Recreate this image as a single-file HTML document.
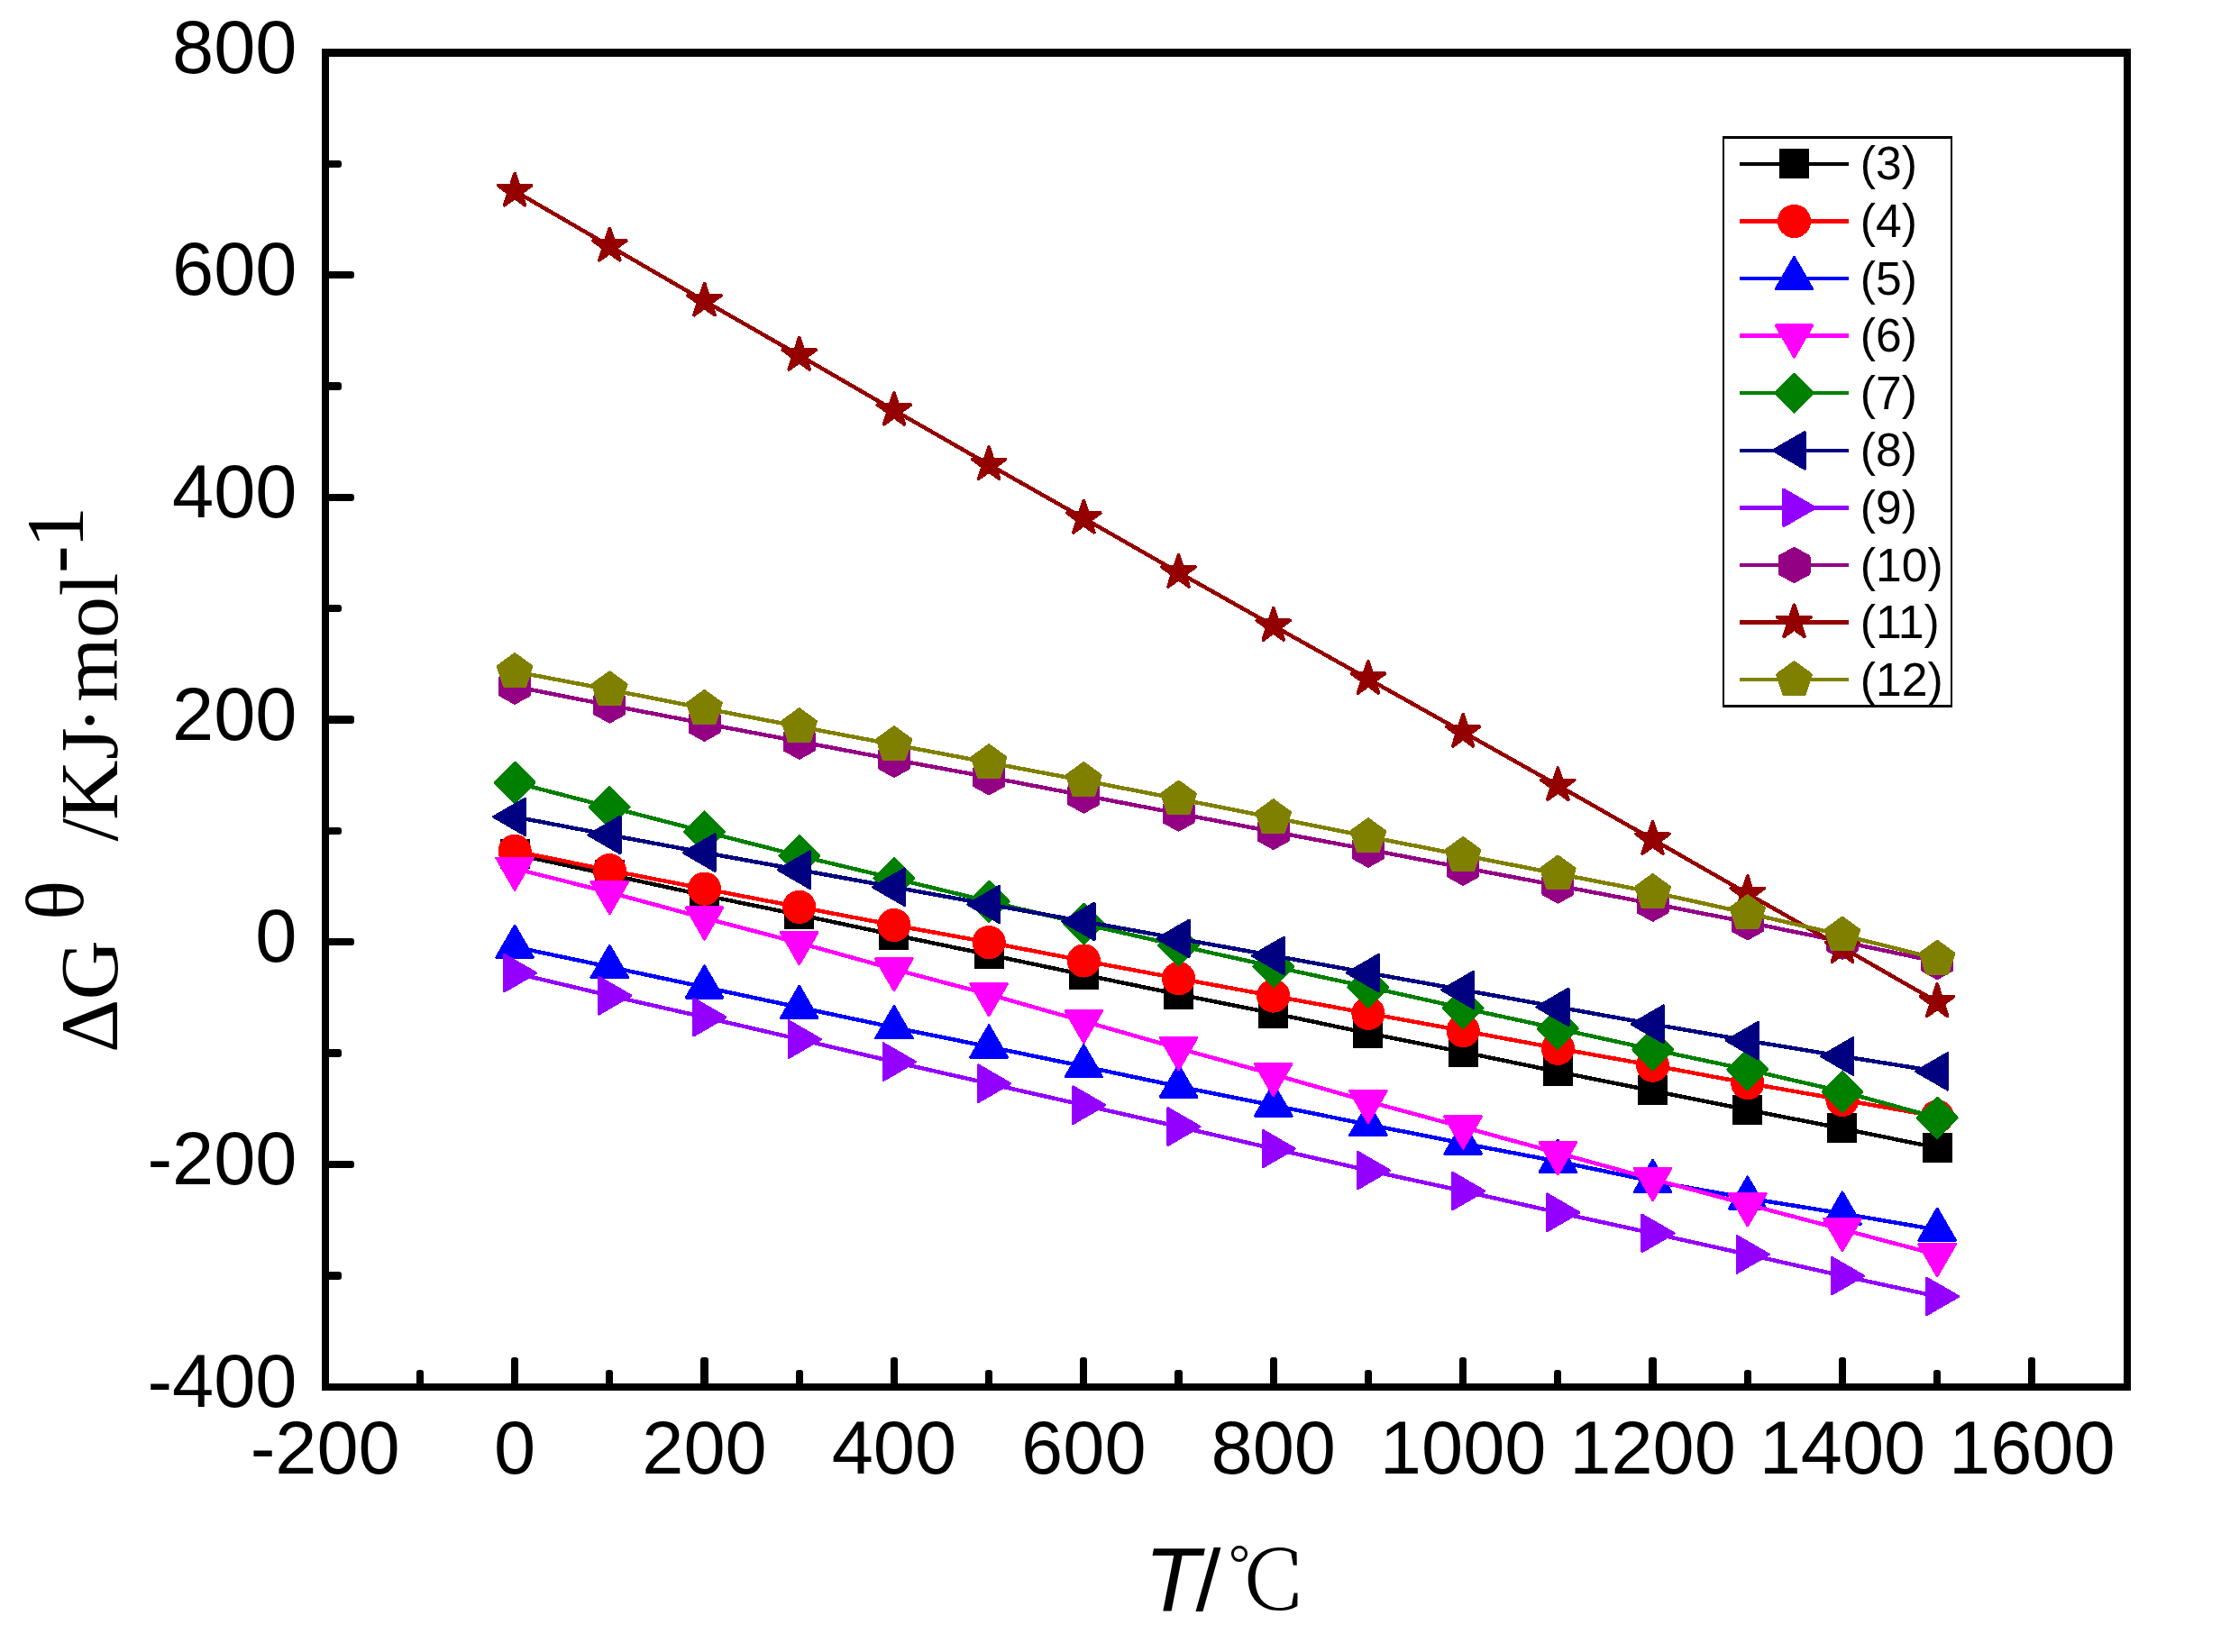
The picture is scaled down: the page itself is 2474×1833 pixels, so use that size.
<!DOCTYPE html>
<html lang="zh"><head><meta charset="utf-8"><title>ΔG θ /KJ·mol-1 — T/℃</title>
<style>
html,body{margin:0;padding:0;background:#fff;}
body{width:2474px;height:1833px;overflow:hidden;}
svg{display:block;}
.tk{font-family:"Liberation Sans",sans-serif;font-size:83px;fill:#000;}
.lg{font-family:"Liberation Sans",sans-serif;font-size:51.7px;fill:#000;}
.yt{font-family:"Liberation Serif",serif;font-size:92px;fill:#000;}
.xt{font-family:"Liberation Sans",sans-serif;font-size:100.5px;fill:#000;}
.xc{font-family:"Noto Serif CJK SC","Liberation Serif",serif;font-weight:300;font-size:93px;fill:#000;}
.xd{font-family:"Liberation Serif",serif;font-size:60px;fill:#000;}
</style></head><body>
<svg width="2474" height="1833" viewBox="0 0 2474 1833">
<rect x="0" y="0" width="2474" height="1833" fill="#fff"/>
<g id="data" shape-rendering="crispEdges">
<g><polyline points="571.1,947.79 676.31,970.49 781.51,993.43 886.71,1015.01 991.92,1037.34 1097.12,1059.29 1202.33,1081.5 1307.53,1103.33 1412.74,1124.3 1517.94,1146.5 1623.15,1167.34 1728.36,1189.17 1833.56,1210.26 1938.76,1231.36 2043.97,1252.2 2149.17,1273.42" fill="none" stroke="#000000" stroke-width="4.5" stroke-linejoin="round"/>
<rect x="554.6" y="930.99" width="33" height="33" fill="#000000"/>
<rect x="659.81" y="953.69" width="33" height="33" fill="#000000"/>
<rect x="765.01" y="976.63" width="33" height="33" fill="#000000"/>
<rect x="870.21" y="998.21" width="33" height="33" fill="#000000"/>
<rect x="975.42" y="1020.54" width="33" height="33" fill="#000000"/>
<rect x="1080.62" y="1042.49" width="33" height="33" fill="#000000"/>
<rect x="1185.83" y="1064.7" width="33" height="33" fill="#000000"/>
<rect x="1291.03" y="1086.53" width="33" height="33" fill="#000000"/>
<rect x="1396.24" y="1107.5" width="33" height="33" fill="#000000"/>
<rect x="1501.44" y="1129.7" width="33" height="33" fill="#000000"/>
<rect x="1606.65" y="1150.54" width="33" height="33" fill="#000000"/>
<rect x="1711.86" y="1172.37" width="33" height="33" fill="#000000"/>
<rect x="1817.06" y="1193.46" width="33" height="33" fill="#000000"/>
<rect x="1922.26" y="1214.56" width="33" height="33" fill="#000000"/>
<rect x="2027.47" y="1235.4" width="33" height="33" fill="#000000"/>
<rect x="2132.67" y="1256.62" width="33" height="33" fill="#000000"/>
</g>
<g><polyline points="571.1,944.34 676.31,965.68 781.51,986.15 886.71,1006.38 991.92,1026.49 1097.12,1045.6 1202.33,1065.95 1307.53,1085.69 1412.74,1105.05 1517.94,1124.42 1623.15,1143.66 1728.36,1163.27 1833.56,1182.14 1938.76,1201.75 2043.97,1220.26 2149.17,1238.88" fill="none" stroke="#ff0000" stroke-width="4.5" stroke-linejoin="round"/>
<circle cx="571.1" cy="944.34" r="18.6" fill="#ff0000"/>
<circle cx="676.31" cy="965.68" r="18.6" fill="#ff0000"/>
<circle cx="781.51" cy="986.15" r="18.6" fill="#ff0000"/>
<circle cx="886.71" cy="1006.38" r="18.6" fill="#ff0000"/>
<circle cx="991.92" cy="1026.49" r="18.6" fill="#ff0000"/>
<circle cx="1097.12" cy="1045.6" r="18.6" fill="#ff0000"/>
<circle cx="1202.33" cy="1065.95" r="18.6" fill="#ff0000"/>
<circle cx="1307.53" cy="1085.69" r="18.6" fill="#ff0000"/>
<circle cx="1412.74" cy="1105.05" r="18.6" fill="#ff0000"/>
<circle cx="1517.94" cy="1124.42" r="18.6" fill="#ff0000"/>
<circle cx="1623.15" cy="1143.66" r="18.6" fill="#ff0000"/>
<circle cx="1728.36" cy="1163.27" r="18.6" fill="#ff0000"/>
<circle cx="1833.56" cy="1182.14" r="18.6" fill="#ff0000"/>
<circle cx="1938.76" cy="1201.75" r="18.6" fill="#ff0000"/>
<circle cx="2043.97" cy="1220.26" r="18.6" fill="#ff0000"/>
<circle cx="2149.17" cy="1238.88" r="18.6" fill="#ff0000"/>
</g>
<g><polyline points="571.1,1050.66 676.31,1072.86 781.51,1095.31 886.71,1117.76 991.92,1140.08 1097.12,1161.42 1202.33,1183.25 1307.53,1205.45 1412.74,1226.55 1517.94,1247.76 1623.15,1268.61 1728.36,1288.71 1833.56,1310.66 1938.76,1329.41 2043.97,1346.43 2149.17,1364.56" fill="none" stroke="#0000ff" stroke-width="4.5" stroke-linejoin="round"/>
<polygon points="571.1,1027.06 591.54,1062.46 550.66,1062.46" fill="#0000ff" stroke="#0000ff" stroke-width="2.8" stroke-linejoin="round"/>
<polygon points="676.31,1049.26 696.75,1084.66 655.87,1084.66" fill="#0000ff" stroke="#0000ff" stroke-width="2.8" stroke-linejoin="round"/>
<polygon points="781.51,1071.71 801.95,1107.11 761.07,1107.11" fill="#0000ff" stroke="#0000ff" stroke-width="2.8" stroke-linejoin="round"/>
<polygon points="886.71,1094.16 907.15,1129.56 866.27,1129.56" fill="#0000ff" stroke="#0000ff" stroke-width="2.8" stroke-linejoin="round"/>
<polygon points="991.92,1116.48 1012.36,1151.88 971.48,1151.88" fill="#0000ff" stroke="#0000ff" stroke-width="2.8" stroke-linejoin="round"/>
<polygon points="1097.12,1137.82 1117.57,1173.22 1076.68,1173.22" fill="#0000ff" stroke="#0000ff" stroke-width="2.8" stroke-linejoin="round"/>
<polygon points="1202.33,1159.65 1222.77,1195.05 1181.89,1195.05" fill="#0000ff" stroke="#0000ff" stroke-width="2.8" stroke-linejoin="round"/>
<polygon points="1307.53,1181.85 1327.97,1217.25 1287.09,1217.25" fill="#0000ff" stroke="#0000ff" stroke-width="2.8" stroke-linejoin="round"/>
<polygon points="1412.74,1202.95 1433.18,1238.35 1392.3,1238.35" fill="#0000ff" stroke="#0000ff" stroke-width="2.8" stroke-linejoin="round"/>
<polygon points="1517.94,1224.16 1538.38,1259.56 1497.5,1259.56" fill="#0000ff" stroke="#0000ff" stroke-width="2.8" stroke-linejoin="round"/>
<polygon points="1623.15,1245.01 1643.59,1280.41 1602.71,1280.41" fill="#0000ff" stroke="#0000ff" stroke-width="2.8" stroke-linejoin="round"/>
<polygon points="1728.36,1265.11 1748.8,1300.51 1707.91,1300.51" fill="#0000ff" stroke="#0000ff" stroke-width="2.8" stroke-linejoin="round"/>
<polygon points="1833.56,1287.06 1854,1322.46 1813.12,1322.46" fill="#0000ff" stroke="#0000ff" stroke-width="2.8" stroke-linejoin="round"/>
<polygon points="1938.76,1305.81 1959.2,1341.21 1918.32,1341.21" fill="#0000ff" stroke="#0000ff" stroke-width="2.8" stroke-linejoin="round"/>
<polygon points="2043.97,1322.83 2064.41,1358.23 2023.53,1358.23" fill="#0000ff" stroke="#0000ff" stroke-width="2.8" stroke-linejoin="round"/>
<polygon points="2149.17,1340.96 2169.61,1376.36 2128.73,1376.36" fill="#0000ff" stroke="#0000ff" stroke-width="2.8" stroke-linejoin="round"/>
</g>
<g><polyline points="571.1,963.7 676.31,990.22 781.51,1018.59 886.71,1046.22 991.92,1075.45 1097.12,1103.33 1202.33,1133.18 1307.53,1163.27 1412.74,1192.13 1517.94,1222.23 1623.15,1250.6 1728.36,1279.34 1833.56,1308.32 1938.76,1336.44 2043.97,1364.19 2149.17,1392.19" fill="none" stroke="#ff00ff" stroke-width="4.5" stroke-linejoin="round"/>
<polygon points="571.1,987.3 591.54,951.9 550.66,951.9" fill="#ff00ff" stroke="#ff00ff" stroke-width="2.8" stroke-linejoin="round"/>
<polygon points="676.31,1013.82 696.75,978.42 655.87,978.42" fill="#ff00ff" stroke="#ff00ff" stroke-width="2.8" stroke-linejoin="round"/>
<polygon points="781.51,1042.19 801.95,1006.79 761.07,1006.79" fill="#ff00ff" stroke="#ff00ff" stroke-width="2.8" stroke-linejoin="round"/>
<polygon points="886.71,1069.82 907.15,1034.42 866.27,1034.42" fill="#ff00ff" stroke="#ff00ff" stroke-width="2.8" stroke-linejoin="round"/>
<polygon points="991.92,1099.05 1012.36,1063.65 971.48,1063.65" fill="#ff00ff" stroke="#ff00ff" stroke-width="2.8" stroke-linejoin="round"/>
<polygon points="1097.12,1126.93 1117.57,1091.53 1076.68,1091.53" fill="#ff00ff" stroke="#ff00ff" stroke-width="2.8" stroke-linejoin="round"/>
<polygon points="1202.33,1156.78 1222.77,1121.38 1181.89,1121.38" fill="#ff00ff" stroke="#ff00ff" stroke-width="2.8" stroke-linejoin="round"/>
<polygon points="1307.53,1186.87 1327.97,1151.47 1287.09,1151.47" fill="#ff00ff" stroke="#ff00ff" stroke-width="2.8" stroke-linejoin="round"/>
<polygon points="1412.74,1215.73 1433.18,1180.33 1392.3,1180.33" fill="#ff00ff" stroke="#ff00ff" stroke-width="2.8" stroke-linejoin="round"/>
<polygon points="1517.94,1245.83 1538.38,1210.43 1497.5,1210.43" fill="#ff00ff" stroke="#ff00ff" stroke-width="2.8" stroke-linejoin="round"/>
<polygon points="1623.15,1274.2 1643.59,1238.8 1602.71,1238.8" fill="#ff00ff" stroke="#ff00ff" stroke-width="2.8" stroke-linejoin="round"/>
<polygon points="1728.36,1302.94 1748.8,1267.54 1707.91,1267.54" fill="#ff00ff" stroke="#ff00ff" stroke-width="2.8" stroke-linejoin="round"/>
<polygon points="1833.56,1331.92 1854,1296.52 1813.12,1296.52" fill="#ff00ff" stroke="#ff00ff" stroke-width="2.8" stroke-linejoin="round"/>
<polygon points="1938.76,1360.04 1959.2,1324.64 1918.32,1324.64" fill="#ff00ff" stroke="#ff00ff" stroke-width="2.8" stroke-linejoin="round"/>
<polygon points="2043.97,1387.79 2064.41,1352.39 2023.53,1352.39" fill="#ff00ff" stroke="#ff00ff" stroke-width="2.8" stroke-linejoin="round"/>
<polygon points="2149.17,1415.79 2169.61,1380.39 2128.73,1380.39" fill="#ff00ff" stroke="#ff00ff" stroke-width="2.8" stroke-linejoin="round"/>
</g>
<g><polyline points="571.1,868.24 676.31,895.5 781.51,922.76 886.71,949.52 991.92,974.68 1097.12,1000.21 1202.33,1025.13 1307.53,1049.18 1412.74,1072.49 1517.94,1095.19 1623.15,1118.5 1728.36,1141.44 1833.56,1164.5 1938.76,1186.83 2043.97,1211.25 2149.17,1240.24" fill="none" stroke="#008000" stroke-width="4.5" stroke-linejoin="round"/>
<polygon points="571.1,846.74 592.6,868.24 571.1,889.74 549.6,868.24" fill="#008000" stroke="#008000" stroke-width="3.8" stroke-linejoin="round"/>
<polygon points="676.31,874 697.81,895.5 676.31,917 654.81,895.5" fill="#008000" stroke="#008000" stroke-width="3.8" stroke-linejoin="round"/>
<polygon points="781.51,901.26 803.01,922.76 781.51,944.26 760.01,922.76" fill="#008000" stroke="#008000" stroke-width="3.8" stroke-linejoin="round"/>
<polygon points="886.71,928.02 908.21,949.52 886.71,971.02 865.21,949.52" fill="#008000" stroke="#008000" stroke-width="3.8" stroke-linejoin="round"/>
<polygon points="991.92,953.18 1013.42,974.68 991.92,996.18 970.42,974.68" fill="#008000" stroke="#008000" stroke-width="3.8" stroke-linejoin="round"/>
<polygon points="1097.12,978.71 1118.62,1000.21 1097.12,1021.71 1075.62,1000.21" fill="#008000" stroke="#008000" stroke-width="3.8" stroke-linejoin="round"/>
<polygon points="1202.33,1003.63 1223.83,1025.13 1202.33,1046.63 1180.83,1025.13" fill="#008000" stroke="#008000" stroke-width="3.8" stroke-linejoin="round"/>
<polygon points="1307.53,1027.68 1329.03,1049.18 1307.53,1070.68 1286.03,1049.18" fill="#008000" stroke="#008000" stroke-width="3.8" stroke-linejoin="round"/>
<polygon points="1412.74,1050.99 1434.24,1072.49 1412.74,1093.99 1391.24,1072.49" fill="#008000" stroke="#008000" stroke-width="3.8" stroke-linejoin="round"/>
<polygon points="1517.94,1073.69 1539.44,1095.19 1517.94,1116.69 1496.44,1095.19" fill="#008000" stroke="#008000" stroke-width="3.8" stroke-linejoin="round"/>
<polygon points="1623.15,1097 1644.65,1118.5 1623.15,1140 1601.65,1118.5" fill="#008000" stroke="#008000" stroke-width="3.8" stroke-linejoin="round"/>
<polygon points="1728.36,1119.94 1749.86,1141.44 1728.36,1162.94 1706.86,1141.44" fill="#008000" stroke="#008000" stroke-width="3.8" stroke-linejoin="round"/>
<polygon points="1833.56,1143 1855.06,1164.5 1833.56,1186 1812.06,1164.5" fill="#008000" stroke="#008000" stroke-width="3.8" stroke-linejoin="round"/>
<polygon points="1938.76,1165.33 1960.26,1186.83 1938.76,1208.33 1917.26,1186.83" fill="#008000" stroke="#008000" stroke-width="3.8" stroke-linejoin="round"/>
<polygon points="2043.97,1189.75 2065.47,1211.25 2043.97,1232.75 2022.47,1211.25" fill="#008000" stroke="#008000" stroke-width="3.8" stroke-linejoin="round"/>
<polygon points="2149.17,1218.74 2170.67,1240.24 2149.17,1261.74 2127.67,1240.24" fill="#008000" stroke="#008000" stroke-width="3.8" stroke-linejoin="round"/>
</g>
<g><polyline points="571.1,906.35 676.31,926.46 781.51,946.07 886.71,965.18 991.92,984.3 1097.12,1003.54 1202.33,1022.42 1307.53,1041.41 1412.74,1060.4 1517.94,1079.52 1623.15,1098.39 1728.36,1117.39 1833.56,1136.38 1938.76,1154.64 2043.97,1172.03 2149.17,1188.8" fill="none" stroke="#000080" stroke-width="4.5" stroke-linejoin="round"/>
<polygon points="547.5,906.35 582.9,885.91 582.9,926.79" fill="#000080" stroke="#000080" stroke-width="2.8" stroke-linejoin="round"/>
<polygon points="652.71,926.46 688.11,906.02 688.11,946.9" fill="#000080" stroke="#000080" stroke-width="2.8" stroke-linejoin="round"/>
<polygon points="757.91,946.07 793.31,925.63 793.31,966.51" fill="#000080" stroke="#000080" stroke-width="2.8" stroke-linejoin="round"/>
<polygon points="863.11,965.18 898.51,944.74 898.51,985.62" fill="#000080" stroke="#000080" stroke-width="2.8" stroke-linejoin="round"/>
<polygon points="968.32,984.3 1003.72,963.86 1003.72,1004.74" fill="#000080" stroke="#000080" stroke-width="2.8" stroke-linejoin="round"/>
<polygon points="1073.53,1003.54 1108.92,983.1 1108.92,1023.98" fill="#000080" stroke="#000080" stroke-width="2.8" stroke-linejoin="round"/>
<polygon points="1178.73,1022.42 1214.13,1001.98 1214.13,1042.86" fill="#000080" stroke="#000080" stroke-width="2.8" stroke-linejoin="round"/>
<polygon points="1283.93,1041.41 1319.33,1020.97 1319.33,1061.85" fill="#000080" stroke="#000080" stroke-width="2.8" stroke-linejoin="round"/>
<polygon points="1389.14,1060.4 1424.54,1039.96 1424.54,1080.84" fill="#000080" stroke="#000080" stroke-width="2.8" stroke-linejoin="round"/>
<polygon points="1494.35,1079.52 1529.74,1059.08 1529.74,1099.96" fill="#000080" stroke="#000080" stroke-width="2.8" stroke-linejoin="round"/>
<polygon points="1599.55,1098.39 1634.95,1077.95 1634.95,1118.83" fill="#000080" stroke="#000080" stroke-width="2.8" stroke-linejoin="round"/>
<polygon points="1704.76,1117.39 1740.15,1096.95 1740.15,1137.83" fill="#000080" stroke="#000080" stroke-width="2.8" stroke-linejoin="round"/>
<polygon points="1809.96,1136.38 1845.36,1115.94 1845.36,1156.82" fill="#000080" stroke="#000080" stroke-width="2.8" stroke-linejoin="round"/>
<polygon points="1915.16,1154.64 1950.56,1134.2 1950.56,1175.08" fill="#000080" stroke="#000080" stroke-width="2.8" stroke-linejoin="round"/>
<polygon points="2020.37,1172.03 2055.77,1151.59 2055.77,1192.47" fill="#000080" stroke="#000080" stroke-width="2.8" stroke-linejoin="round"/>
<polygon points="2125.57,1188.8 2160.97,1168.36 2160.97,1209.24" fill="#000080" stroke="#000080" stroke-width="2.8" stroke-linejoin="round"/>
</g>
<g><polyline points="571.1,1079.65 676.31,1104.68 781.51,1128.61 886.71,1153.16 991.92,1178.2 1097.12,1202.25 1202.33,1226.18 1307.53,1250.1 1412.74,1274.53 1517.94,1298.58 1623.15,1321.52 1728.36,1345.32 1833.56,1368.39 1938.76,1391.82 2043.97,1415.63 2149.17,1438.45" fill="none" stroke="#9400ff" stroke-width="4.5" stroke-linejoin="round"/>
<polygon points="594.7,1079.65 559.3,1059.21 559.3,1100.09" fill="#9400ff" stroke="#9400ff" stroke-width="2.8" stroke-linejoin="round"/>
<polygon points="699.91,1104.68 664.51,1084.24 664.51,1125.12" fill="#9400ff" stroke="#9400ff" stroke-width="2.8" stroke-linejoin="round"/>
<polygon points="805.11,1128.61 769.71,1108.17 769.71,1149.05" fill="#9400ff" stroke="#9400ff" stroke-width="2.8" stroke-linejoin="round"/>
<polygon points="910.31,1153.16 874.91,1132.72 874.91,1173.6" fill="#9400ff" stroke="#9400ff" stroke-width="2.8" stroke-linejoin="round"/>
<polygon points="1015.52,1178.2 980.12,1157.76 980.12,1198.64" fill="#9400ff" stroke="#9400ff" stroke-width="2.8" stroke-linejoin="round"/>
<polygon points="1120.72,1202.25 1085.33,1181.81 1085.33,1222.69" fill="#9400ff" stroke="#9400ff" stroke-width="2.8" stroke-linejoin="round"/>
<polygon points="1225.93,1226.18 1190.53,1205.74 1190.53,1246.62" fill="#9400ff" stroke="#9400ff" stroke-width="2.8" stroke-linejoin="round"/>
<polygon points="1331.13,1250.1 1295.73,1229.66 1295.73,1270.54" fill="#9400ff" stroke="#9400ff" stroke-width="2.8" stroke-linejoin="round"/>
<polygon points="1436.34,1274.53 1400.94,1254.09 1400.94,1294.97" fill="#9400ff" stroke="#9400ff" stroke-width="2.8" stroke-linejoin="round"/>
<polygon points="1541.54,1298.58 1506.14,1278.14 1506.14,1319.02" fill="#9400ff" stroke="#9400ff" stroke-width="2.8" stroke-linejoin="round"/>
<polygon points="1646.75,1321.52 1611.35,1301.08 1611.35,1341.96" fill="#9400ff" stroke="#9400ff" stroke-width="2.8" stroke-linejoin="round"/>
<polygon points="1751.95,1345.32 1716.56,1324.88 1716.56,1365.76" fill="#9400ff" stroke="#9400ff" stroke-width="2.8" stroke-linejoin="round"/>
<polygon points="1857.16,1368.39 1821.76,1347.95 1821.76,1388.83" fill="#9400ff" stroke="#9400ff" stroke-width="2.8" stroke-linejoin="round"/>
<polygon points="1962.36,1391.82 1926.96,1371.38 1926.96,1412.26" fill="#9400ff" stroke="#9400ff" stroke-width="2.8" stroke-linejoin="round"/>
<polygon points="2067.57,1415.63 2032.17,1395.19 2032.17,1436.07" fill="#9400ff" stroke="#9400ff" stroke-width="2.8" stroke-linejoin="round"/>
<polygon points="2172.77,1438.45 2137.37,1418.01 2137.37,1458.89" fill="#9400ff" stroke="#9400ff" stroke-width="2.8" stroke-linejoin="round"/>
</g>
<g><polyline points="571.1,761.67 676.31,782.52 781.51,802.74 886.71,822.72 991.92,842.83 1097.12,862.32 1202.33,882.55 1307.53,902.65 1412.74,922.88 1517.94,942.61 1623.15,962.72 1728.36,982.58 1833.56,1002.68 1938.76,1023.28 2043.97,1044.86 2149.17,1067.06" fill="none" stroke="#940084" stroke-width="4.5" stroke-linejoin="round"/>
<polygon points="571.1,743.47 587.2,752.37 587.2,770.97 571.1,779.87 555,770.97 555,752.37" fill="#940084" stroke="#940084" stroke-width="3.8" stroke-linejoin="round"/>
<polygon points="676.31,764.32 692.41,773.22 692.41,791.82 676.31,800.72 660.21,791.82 660.21,773.22" fill="#940084" stroke="#940084" stroke-width="3.8" stroke-linejoin="round"/>
<polygon points="781.51,784.54 797.61,793.44 797.61,812.04 781.51,820.94 765.41,812.04 765.41,793.44" fill="#940084" stroke="#940084" stroke-width="3.8" stroke-linejoin="round"/>
<polygon points="886.71,804.52 902.81,813.42 902.81,832.02 886.71,840.92 870.61,832.02 870.61,813.42" fill="#940084" stroke="#940084" stroke-width="3.8" stroke-linejoin="round"/>
<polygon points="991.92,824.63 1008.02,833.53 1008.02,852.13 991.92,861.03 975.82,852.13 975.82,833.53" fill="#940084" stroke="#940084" stroke-width="3.8" stroke-linejoin="round"/>
<polygon points="1097.12,844.12 1113.22,853.02 1113.22,871.62 1097.12,880.52 1081.03,871.62 1081.03,853.02" fill="#940084" stroke="#940084" stroke-width="3.8" stroke-linejoin="round"/>
<polygon points="1202.33,864.35 1218.43,873.25 1218.43,891.85 1202.33,900.75 1186.23,891.85 1186.23,873.25" fill="#940084" stroke="#940084" stroke-width="3.8" stroke-linejoin="round"/>
<polygon points="1307.53,884.45 1323.63,893.35 1323.63,911.95 1307.53,920.85 1291.43,911.95 1291.43,893.35" fill="#940084" stroke="#940084" stroke-width="3.8" stroke-linejoin="round"/>
<polygon points="1412.74,904.68 1428.84,913.58 1428.84,932.18 1412.74,941.08 1396.64,932.18 1396.64,913.58" fill="#940084" stroke="#940084" stroke-width="3.8" stroke-linejoin="round"/>
<polygon points="1517.94,924.41 1534.04,933.31 1534.04,951.91 1517.94,960.81 1501.85,951.91 1501.85,933.31" fill="#940084" stroke="#940084" stroke-width="3.8" stroke-linejoin="round"/>
<polygon points="1623.15,944.52 1639.25,953.42 1639.25,972.02 1623.15,980.92 1607.05,972.02 1607.05,953.42" fill="#940084" stroke="#940084" stroke-width="3.8" stroke-linejoin="round"/>
<polygon points="1728.36,964.38 1744.45,973.28 1744.45,991.88 1728.36,1000.78 1712.26,991.88 1712.26,973.28" fill="#940084" stroke="#940084" stroke-width="3.8" stroke-linejoin="round"/>
<polygon points="1833.56,984.48 1849.66,993.38 1849.66,1011.98 1833.56,1020.88 1817.46,1011.98 1817.46,993.38" fill="#940084" stroke="#940084" stroke-width="3.8" stroke-linejoin="round"/>
<polygon points="1938.76,1005.08 1954.86,1013.98 1954.86,1032.58 1938.76,1041.48 1922.66,1032.58 1922.66,1013.98" fill="#940084" stroke="#940084" stroke-width="3.8" stroke-linejoin="round"/>
<polygon points="2043.97,1026.66 2060.07,1035.56 2060.07,1054.16 2043.97,1063.06 2027.87,1054.16 2027.87,1035.56" fill="#940084" stroke="#940084" stroke-width="3.8" stroke-linejoin="round"/>
<polygon points="2149.17,1048.86 2165.27,1057.76 2165.27,1076.36 2149.17,1085.26 2133.07,1076.36 2133.07,1057.76" fill="#940084" stroke="#940084" stroke-width="3.8" stroke-linejoin="round"/>
</g>
<g><polyline points="571.1,211.94 676.31,272.99 781.51,333.92 886.71,394.24 991.92,455.17 1097.12,515.48 1202.33,575.05 1307.53,635.12 1412.74,694.33 1517.94,753.28 1623.15,812.24 1728.36,871.44 1833.56,931.39 1938.76,991.58 2043.97,1051.4 2149.17,1111.71" fill="none" stroke="#940000" stroke-width="4.5" stroke-linejoin="round"/>
<polygon points="571.1,192.54 575.46,205.94 589.55,205.94 578.15,214.23 582.5,227.63 571.1,219.35 559.7,227.63 564.05,214.23 552.65,205.94 566.74,205.94" fill="#940000" stroke="#940000" stroke-width="3.8" stroke-linejoin="round"/>
<polygon points="676.31,253.59 680.66,267 694.76,267 683.35,275.28 687.71,288.69 676.31,280.4 664.9,288.69 669.26,275.28 657.85,267 671.95,267" fill="#940000" stroke="#940000" stroke-width="3.8" stroke-linejoin="round"/>
<polygon points="781.51,314.52 785.87,327.93 799.96,327.93 788.56,336.21 792.91,349.62 781.51,341.33 770.11,349.62 774.46,336.21 763.06,327.93 777.15,327.93" fill="#940000" stroke="#940000" stroke-width="3.8" stroke-linejoin="round"/>
<polygon points="886.71,374.84 891.07,388.24 905.17,388.24 893.76,396.53 898.12,409.93 886.71,401.65 875.31,409.93 879.67,396.53 868.26,388.24 882.36,388.24" fill="#940000" stroke="#940000" stroke-width="3.8" stroke-linejoin="round"/>
<polygon points="991.92,435.77 996.28,449.17 1010.37,449.17 998.97,457.46 1003.32,470.86 991.92,462.58 980.52,470.86 984.87,457.46 973.47,449.17 987.56,449.17" fill="#940000" stroke="#940000" stroke-width="3.8" stroke-linejoin="round"/>
<polygon points="1097.12,496.08 1101.48,509.49 1115.58,509.49 1104.17,517.77 1108.53,531.18 1097.12,522.89 1085.72,531.18 1090.08,517.77 1078.67,509.49 1092.77,509.49" fill="#940000" stroke="#940000" stroke-width="3.8" stroke-linejoin="round"/>
<polygon points="1202.33,555.65 1206.69,569.06 1220.78,569.06 1209.38,577.34 1213.73,590.75 1202.33,582.47 1190.93,590.75 1195.28,577.34 1183.88,569.06 1197.97,569.06" fill="#940000" stroke="#940000" stroke-width="3.8" stroke-linejoin="round"/>
<polygon points="1307.53,615.72 1311.89,629.13 1325.99,629.13 1314.58,637.41 1318.94,650.82 1307.53,642.53 1296.13,650.82 1300.49,637.41 1289.08,629.13 1303.18,629.13" fill="#940000" stroke="#940000" stroke-width="3.8" stroke-linejoin="round"/>
<polygon points="1412.74,674.93 1417.1,688.33 1431.19,688.33 1419.79,696.62 1424.14,710.02 1412.74,701.74 1401.34,710.02 1405.69,696.62 1394.29,688.33 1408.38,688.33" fill="#940000" stroke="#940000" stroke-width="3.8" stroke-linejoin="round"/>
<polygon points="1517.94,733.88 1522.3,747.29 1536.4,747.29 1524.99,755.57 1529.35,768.98 1517.94,760.69 1506.54,768.98 1510.9,755.57 1499.49,747.29 1513.59,747.29" fill="#940000" stroke="#940000" stroke-width="3.8" stroke-linejoin="round"/>
<polygon points="1623.15,792.84 1627.51,806.25 1641.6,806.25 1630.2,814.53 1634.55,827.94 1623.15,819.65 1611.75,827.94 1616.1,814.53 1604.7,806.25 1618.79,806.25" fill="#940000" stroke="#940000" stroke-width="3.8" stroke-linejoin="round"/>
<polygon points="1728.36,852.04 1732.71,865.45 1746.81,865.45 1735.4,873.73 1739.76,887.14 1728.36,878.86 1716.95,887.14 1721.31,873.73 1709.9,865.45 1724,865.45" fill="#940000" stroke="#940000" stroke-width="3.8" stroke-linejoin="round"/>
<polygon points="1833.56,911.99 1837.92,925.39 1852.01,925.39 1840.61,933.68 1844.96,947.08 1833.56,938.8 1822.16,947.08 1826.51,933.68 1815.11,925.39 1829.2,925.39" fill="#940000" stroke="#940000" stroke-width="3.8" stroke-linejoin="round"/>
<polygon points="1938.76,972.18 1943.12,985.58 1957.22,985.58 1945.81,993.87 1950.17,1007.27 1938.76,998.99 1927.36,1007.27 1931.72,993.87 1920.31,985.58 1934.41,985.58" fill="#940000" stroke="#940000" stroke-width="3.8" stroke-linejoin="round"/>
<polygon points="2043.97,1032 2048.33,1045.4 2062.42,1045.41 2051.02,1053.69 2055.37,1067.1 2043.97,1058.81 2032.57,1067.1 2036.92,1053.69 2025.52,1045.41 2039.61,1045.4" fill="#940000" stroke="#940000" stroke-width="3.8" stroke-linejoin="round"/>
<polygon points="2149.17,1092.31 2153.53,1105.72 2167.63,1105.72 2156.22,1114 2160.58,1127.41 2149.17,1119.13 2137.77,1127.41 2142.13,1114 2130.72,1105.72 2144.82,1105.72" fill="#940000" stroke="#940000" stroke-width="3.8" stroke-linejoin="round"/>
</g>
<g><polyline points="571.1,745.14 676.31,765.25 781.51,785.97 886.71,806.2 991.92,826.18 1097.12,846.16 1202.33,866.02 1307.53,886.49 1412.74,907.21 1517.94,928.18 1623.15,949.03 1728.36,969.5 1833.56,989.98 1938.76,1013.16 2043.97,1037.59 2149.17,1063.73" fill="none" stroke="#808000" stroke-width="4.5" stroke-linejoin="round"/>
<polygon points="571.1,726.14 589.46,739.48 582.44,761.06 559.76,761.06 552.74,739.48" fill="#808000" stroke="#808000" stroke-width="3.8" stroke-linejoin="round"/>
<polygon points="676.31,746.25 694.66,759.58 687.65,781.16 664.96,781.16 657.95,759.58" fill="#808000" stroke="#808000" stroke-width="3.8" stroke-linejoin="round"/>
<polygon points="781.51,766.97 799.87,780.31 792.85,801.88 770.17,801.88 763.15,780.31" fill="#808000" stroke="#808000" stroke-width="3.8" stroke-linejoin="round"/>
<polygon points="886.71,787.2 905.07,800.53 898.06,822.11 875.37,822.11 868.36,800.53" fill="#808000" stroke="#808000" stroke-width="3.8" stroke-linejoin="round"/>
<polygon points="991.92,807.18 1010.28,820.51 1003.26,842.09 980.58,842.09 973.56,820.51" fill="#808000" stroke="#808000" stroke-width="3.8" stroke-linejoin="round"/>
<polygon points="1097.12,827.16 1115.48,840.5 1108.47,862.07 1085.78,862.07 1078.77,840.5" fill="#808000" stroke="#808000" stroke-width="3.8" stroke-linejoin="round"/>
<polygon points="1202.33,847.02 1220.69,860.35 1213.67,881.93 1190.99,881.93 1183.97,860.35" fill="#808000" stroke="#808000" stroke-width="3.8" stroke-linejoin="round"/>
<polygon points="1307.53,867.49 1325.89,880.83 1318.88,902.41 1296.19,902.41 1289.18,880.83" fill="#808000" stroke="#808000" stroke-width="3.8" stroke-linejoin="round"/>
<polygon points="1412.74,888.21 1431.1,901.55 1424.08,923.13 1401.4,923.13 1394.38,901.55" fill="#808000" stroke="#808000" stroke-width="3.8" stroke-linejoin="round"/>
<polygon points="1517.94,909.18 1536.3,922.52 1529.29,944.1 1506.6,944.1 1499.59,922.52" fill="#808000" stroke="#808000" stroke-width="3.8" stroke-linejoin="round"/>
<polygon points="1623.15,930.03 1641.51,943.36 1634.49,964.94 1611.81,964.94 1604.79,943.36" fill="#808000" stroke="#808000" stroke-width="3.8" stroke-linejoin="round"/>
<polygon points="1728.36,950.5 1746.71,963.84 1739.7,985.42 1717.01,985.42 1710,963.84" fill="#808000" stroke="#808000" stroke-width="3.8" stroke-linejoin="round"/>
<polygon points="1833.56,970.98 1851.92,984.31 1844.9,1005.89 1822.22,1005.89 1815.2,984.31" fill="#808000" stroke="#808000" stroke-width="3.8" stroke-linejoin="round"/>
<polygon points="1938.76,994.16 1957.12,1007.5 1950.11,1029.08 1927.42,1029.08 1920.41,1007.5" fill="#808000" stroke="#808000" stroke-width="3.8" stroke-linejoin="round"/>
<polygon points="2043.97,1018.59 2062.33,1031.92 2055.31,1053.5 2032.63,1053.5 2025.61,1031.92" fill="#808000" stroke="#808000" stroke-width="3.8" stroke-linejoin="round"/>
<polygon points="2149.17,1044.73 2167.53,1058.07 2160.52,1079.65 2137.83,1079.65 2130.82,1058.07" fill="#808000" stroke="#808000" stroke-width="3.8" stroke-linejoin="round"/>
</g>
</g>
<g id="axes" fill="#000" shape-rendering="crispEdges">
<rect x="357" y="54" width="2007" height="9"/>
<rect x="357" y="1535" width="2007" height="8"/>
<rect x="357" y="54" width="8" height="1489"/>
<rect x="2356" y="54" width="8" height="1489"/>
</g>
<g id="ticks" fill="#000">
<rect x="359" y="1411" width="20" height="9" rx="3" ry="3"/>
<rect x="359" y="1288" width="34" height="8" rx="3" ry="3"/>
<rect x="359" y="1164" width="20" height="9" rx="3" ry="3"/>
<rect x="359" y="1041" width="34" height="8" rx="3" ry="3"/>
<rect x="359" y="918" width="20" height="8" rx="3" ry="3"/>
<rect x="359" y="794" width="34" height="9" rx="3" ry="3"/>
<rect x="359" y="671" width="20" height="8" rx="3" ry="3"/>
<rect x="359" y="548" width="34" height="8" rx="3" ry="3"/>
<rect x="359" y="424" width="20" height="9" rx="3" ry="3"/>
<rect x="359" y="301" width="34" height="8" rx="3" ry="3"/>
<rect x="359" y="178" width="20" height="8" rx="3" ry="3"/>
<rect x="462" y="1520" width="8" height="21" rx="3" ry="3"/>
<rect x="567" y="1506" width="8" height="35" rx="3" ry="3"/>
<rect x="672" y="1520" width="8" height="21" rx="3" ry="3"/>
<rect x="777" y="1506" width="9" height="35" rx="3" ry="3"/>
<rect x="883" y="1520" width="8" height="21" rx="3" ry="3"/>
<rect x="988" y="1506" width="8" height="35" rx="3" ry="3"/>
<rect x="1093" y="1520" width="8" height="21" rx="3" ry="3"/>
<rect x="1198" y="1506" width="8" height="35" rx="3" ry="3"/>
<rect x="1303" y="1520" width="9" height="21" rx="3" ry="3"/>
<rect x="1409" y="1506" width="8" height="35" rx="3" ry="3"/>
<rect x="1514" y="1520" width="8" height="21" rx="3" ry="3"/>
<rect x="1619" y="1506" width="8" height="35" rx="3" ry="3"/>
<rect x="1724" y="1520" width="8" height="21" rx="3" ry="3"/>
<rect x="1829" y="1506" width="9" height="35" rx="3" ry="3"/>
<rect x="1935" y="1520" width="8" height="21" rx="3" ry="3"/>
<rect x="2040" y="1506" width="8" height="35" rx="3" ry="3"/>
<rect x="2145" y="1520" width="8" height="21" rx="3" ry="3"/>
<rect x="2250" y="1506" width="8" height="35" rx="3" ry="3"/>
</g>
<g class="tk" text-anchor="end">
<text x="329.5" y="1560.6">-400</text>
<text x="329.5" y="1313.92">-200</text>
<text x="329.5" y="1067.23">0</text>
<text x="329.5" y="820.55">200</text>
<text x="329.5" y="573.87">400</text>
<text x="329.5" y="327.18">600</text>
<text x="329.5" y="80.5">800</text>
</g>
<g class="tk" text-anchor="middle">
<text x="360.69" y="1634.5">-200</text>
<text x="571.1" y="1634.5">0</text>
<text x="781.51" y="1634.5">200</text>
<text x="991.92" y="1634.5">400</text>
<text x="1202.33" y="1634.5">600</text>
<text x="1412.74" y="1634.5">800</text>
<text x="1623.15" y="1634.5">1000</text>
<text x="1833.56" y="1634.5">1200</text>
<text x="2043.97" y="1634.5">1400</text>
<text x="2254.38" y="1634.5">1600</text>
</g>
<text class="xt" x="1269.5" y="1787" font-style="italic">T</text>
<text class="xt" transform="translate(1326.5,1786.5) scale(1,0.955)">/</text>
<text class="xd" x="1363" y="1755">°</text>
<text class="xc" transform="translate(1379.3,1786) scale(1.02,1)">C</text>
<g class="yt" transform="translate(130.3,0) rotate(-90)">
<text x="-1168 -1109.4" y="0">ΔG</text>
<text x="-1021" y="-38">θ</text>
<text x="-933.5 -910.1 -843 -814.5 -778.9 -707.9 -661.3" y="0">/KJ·mol</text>
<text x="-636 -608" y="-38">-1</text>
</g>
<g shape-rendering="crispEdges"><rect x="1911" y="151" width="255" height="634" fill="#000"/><rect x="1913" y="154" width="251" height="628" fill="#fff"/></g>
<g id="legend" shape-rendering="crispEdges">
<line x1="1930.2" y1="181.8" x2="2051" y2="181.8" stroke="#000000" stroke-width="4.5"/>
<rect x="1974" y="165" width="33" height="33" fill="#000000"/>
<line x1="1930.2" y1="245.4" x2="2051" y2="245.4" stroke="#ff0000" stroke-width="4.5"/>
<circle cx="1990.5" cy="245.4" r="18.6" fill="#ff0000"/>
<line x1="1930.2" y1="309" x2="2051" y2="309" stroke="#0000ff" stroke-width="4.5"/>
<polygon points="1990.5,285.4 2010.94,320.8 1970.06,320.8" fill="#0000ff" stroke="#0000ff" stroke-width="2.8" stroke-linejoin="round"/>
<line x1="1930.2" y1="372.6" x2="2051" y2="372.6" stroke="#ff00ff" stroke-width="4.5"/>
<polygon points="1990.5,396.2 2010.94,360.8 1970.06,360.8" fill="#ff00ff" stroke="#ff00ff" stroke-width="2.8" stroke-linejoin="round"/>
<line x1="1930.2" y1="436.2" x2="2051" y2="436.2" stroke="#008000" stroke-width="4.5"/>
<polygon points="1990.5,415.7 2011,436.2 1990.5,456.7 1970,436.2" fill="#008000" stroke="#008000" stroke-width="3.8" stroke-linejoin="round"/>
<line x1="1930.2" y1="499.8" x2="2051" y2="499.8" stroke="#000080" stroke-width="4.5"/>
<polygon points="1966.9,499.8 2002.3,479.36 2002.3,520.24" fill="#000080" stroke="#000080" stroke-width="2.8" stroke-linejoin="round"/>
<line x1="1930.2" y1="563.4" x2="2051" y2="563.4" stroke="#9400ff" stroke-width="4.5"/>
<polygon points="2014.1,563.4 1978.7,542.96 1978.7,583.84" fill="#9400ff" stroke="#9400ff" stroke-width="2.8" stroke-linejoin="round"/>
<line x1="1930.2" y1="627" x2="2051" y2="627" stroke="#940084" stroke-width="4.5"/>
<polygon points="1990.5,608.8 2006.6,617.7 2006.6,636.3 1990.5,645.2 1974.4,636.3 1974.4,617.7" fill="#940084" stroke="#940084" stroke-width="3.8" stroke-linejoin="round"/>
<line x1="1930.2" y1="690.6" x2="2051" y2="690.6" stroke="#940000" stroke-width="4.5"/>
<polygon points="1990.5,671.2 1994.86,684.6 2008.95,684.61 1997.55,692.89 2001.9,706.29 1990.5,698.01 1979.1,706.29 1983.45,692.89 1972.05,684.61 1986.14,684.6" fill="#940000" stroke="#940000" stroke-width="3.8" stroke-linejoin="round"/>
<line x1="1930.2" y1="754.2" x2="2051" y2="754.2" stroke="#808000" stroke-width="4.5"/>
<polygon points="1990.5,735.2 2008.86,748.54 2001.84,770.11 1979.16,770.11 1972.14,748.54" fill="#808000" stroke="#808000" stroke-width="3.8" stroke-linejoin="round"/>
</g>
<g class="lg">
<text x="2063.7" y="199.3">(3)</text>
<text x="2063.7" y="262.9">(4)</text>
<text x="2063.7" y="326.5">(5)</text>
<text x="2063.7" y="390.1">(6)</text>
<text x="2063.7" y="453.7">(7)</text>
<text x="2063.7" y="517.3">(8)</text>
<text x="2063.7" y="580.9">(9)</text>
<text x="2063.7" y="644.5">(10)</text>
<text x="2063.7" y="708.1">(11)</text>
<text x="2063.7" y="771.7">(12)</text>
</g>
</svg></body></html>
